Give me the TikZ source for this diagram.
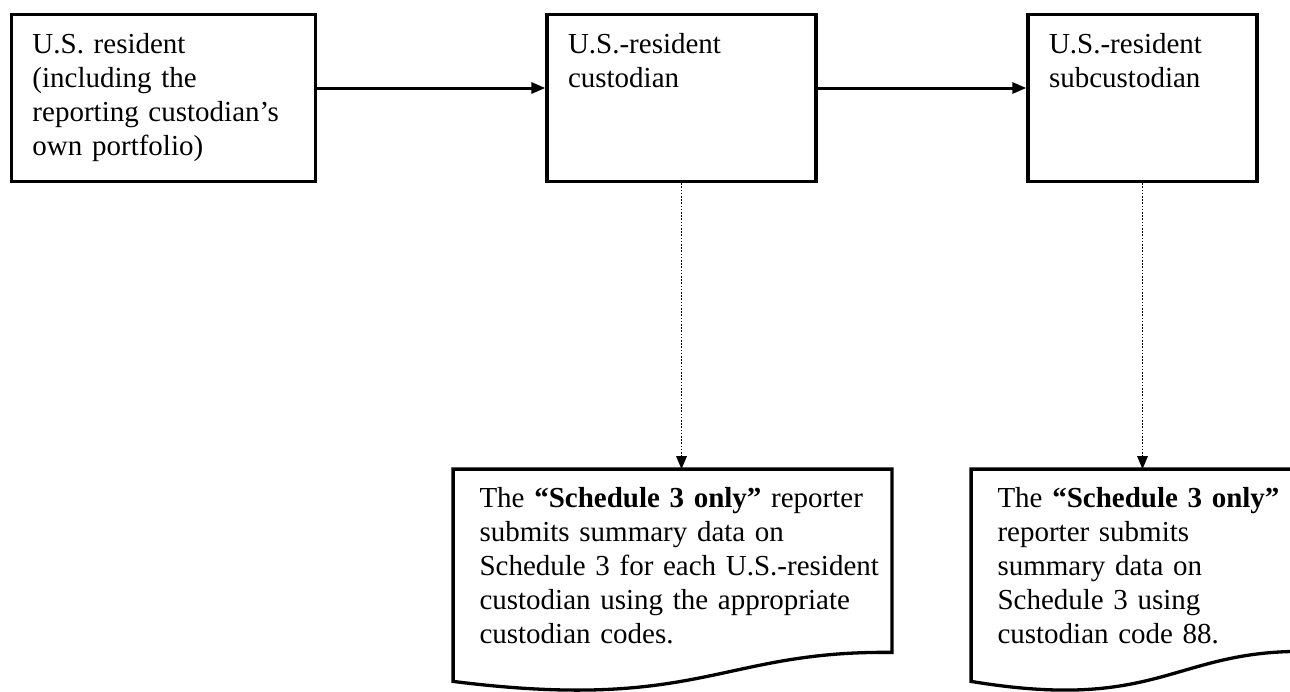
\documentclass[tikz,border=0pt]{standalone}
\usepackage{fontspec}
\setmainfont{Liberation Serif}
\usetikzlibrary{arrows.meta}

\begin{document}
\begin{tikzpicture}[x=0.5pt,y=-0.5pt,
  every node/.style={font=\fontsize{14.5pt}{17pt}\selectfont},
  box/.style={draw, line width=1.65pt, inner xsep=10.5pt, inner ysep=0pt, align=left, text height=19.25pt, text depth=64.25pt},
  doc/.style={inner xsep=13pt, inner ysep=0pt, align=left, text height=18.75pt, text depth=87pt},
  docline/.style={line width=1.65pt},
  flow/.style={line width=1.5pt, -{Triangle[length=7pt,width=5.5pt]}},
  report/.style={line width=0.65pt, dash pattern=on 0.8pt off 0.8pt, -{Triangle[length=6.5pt,width=5.3pt]}}]
\useasboundingbox (0,0) rectangle (1290,691);
\node[box, text width=131pt] (res) at (163.5,98) {U.S. resident\\(including the\\reporting custodian’s\\own portfolio)};
\node[box, text width=113.5pt] (cust) at (681.5,98) {U.S.-resident\\custodian};
\node[box, text width=93.5pt] (sub) at (1142.5,98) {U.S.-resident\\subcustodian};
\node[doc, text width=193pt] (d1) at (672.5,575.25) {\mbox{The \textbf{“Schedule 3 only”} reporter}\\submits summary data on\\\mbox{Schedule 3 for each U.S.-resident}\\custodian using the appropriate\\custodian codes.};
\node[doc, text width=140pt] (d2) at (1137.5,575.25) {\mbox{The \textbf{“Schedule 3 only”}}\\reporter submits\\summary data on\\Schedule 3 using\\custodian code 88.};
% document outlines
\draw[docline] (d1.south west) -- (d1.north west) -- (d1.north east) -- ([yshift=14.5pt]d1.south east)
  .. controls ([xshift=133.25pt,yshift=15.5pt]d1.south west) and ([xshift=123.25pt,yshift=-15.5pt]d1.south west) .. (d1.south west) -- cycle;
\draw[docline] (d2.south west) -- (d2.north west) -- (d2.north east) -- ([yshift=15pt]d2.south east)
  .. controls ([xshift=101pt,yshift=15.5pt]d2.south west) and ([xshift=93.5pt,yshift=-15.5pt]d2.south west) .. (d2.south west) -- cycle;
\draw[flow] ([yshift=5pt]res.east) -- ([yshift=5pt]cust.west);
\draw[flow] ([yshift=5pt]cust.east) -- ([yshift=5pt]sub.west);
\draw[report] (cust.south) -- (cust.south |- d1.north);
\draw[report] (sub.south) -- (sub.south |- d2.north);
\end{tikzpicture}
\end{document}
